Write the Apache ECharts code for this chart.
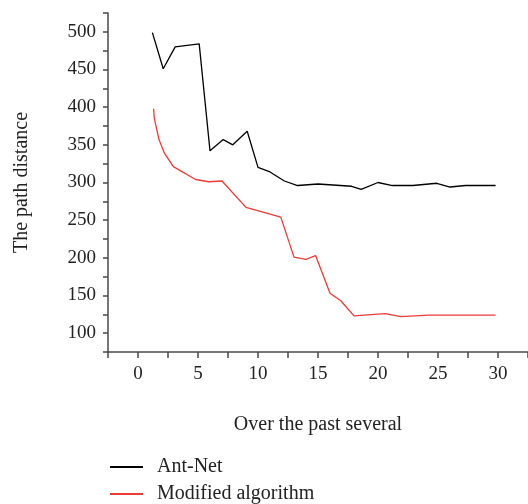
<!DOCTYPE html>
<html>
<head>
<meta charset="utf-8">
<script src="https://cdn.jsdelivr.net/npm/echarts@6/dist/echarts.min.js"></script>
<style>
  html, body { margin: 0; padding: 0; background: #fff; }
  #main { width: 528px; height: 504px; }
</style>
</head>
<body>
<div id="main"></div>
<script>
// 数据
var antNetX = [1.2, 2.1, 3.1, 5.1, 6.0, 7.1, 7.9, 9.1, 10.0, 11.0, 12.2, 13.3, 15.0, 17.8, 18.6, 20.0, 21.2, 22.9, 24.9, 26.0, 27.3, 29.8];
var antNetY = [499, 451, 480, 484, 342, 357, 350, 368, 320, 314, 302, 296, 298, 295, 291, 300, 296, 296, 299, 294, 296, 296];

var modX = [1.3, 1.36, 1.75, 2.2, 2.95, 4.8, 5.9, 7.0, 9.0, 11.9, 13.0, 14.0, 14.8, 16.0, 16.9, 18.0, 20.6, 21.9, 24.2, 29.8];
var modY = [398, 385, 357, 339, 321, 304, 301, 302, 267, 254, 201, 198, 203, 153, 143, 123, 126, 122, 124, 124];

var seriesNames = ['Ant-Net', 'Modified algorithm'];
var seriesColors = ['#000000', '#ee3b36'];
var xTicks = [0, 5, 10, 15, 20, 25, 30];
var yTicks = [100, 150, 200, 250, 300, 350, 400, 450, 500];

function pairs(xs, ys) {
    var out = [];
    for (var i = 0; i < xs.length; i++) out.push([xs[i], ys[i]]);
    return out;
}

var font = 'Liberation Serif';
var axisColor = '#4a4a4a';

// 两个图例, 一行一个
function legendAt(name, top) {
    return {
        left: 110,
        top: top,
        padding: 0,
        itemWidth: 33,
        itemHeight: 2,
        icon: 'rect',
        data: [name],
        textStyle: { fontFamily: font, fontSize: 20, color: '#222', padding: [0, 0, 0, 9] }
    };
}

var myChart = echarts.init(document.getElementById('main'));
var option = {
    animation: false,
    grid: { left: 108, top: 13, right: 0, bottom: 152, outerBoundsMode: 'none', containLabel: false },
    legend: [legendAt(seriesNames[0], 457), legendAt(seriesNames[1], 484)],
    xAxis: {
        type: 'value',
        min: -2.5,
        max: 32.5,
        interval: 2.5,
        name: 'Over the past several',
        nameLocation: 'middle',
        nameGap: 63,
        nameTextStyle: { fontFamily: font, fontSize: 20, color: '#222' },
        axisLine: { show: true, onZero: false, lineStyle: { color: axisColor, width: 1.5 } },
        axisTick: { show: true, length: 6, lineStyle: { color: axisColor, width: 1.5 } },
        splitLine: { show: false },
        axisLabel: {
            fontFamily: font, fontSize: 19, color: '#222', margin: 13,
            formatter: function (v) { return xTicks.indexOf(v) >= 0 ? String(v) : ''; }
        }
    },
    yAxis: {
        type: 'value',
        min: 75,
        max: 525,
        interval: 25,
        name: 'The path distance',
        nameLocation: 'middle',
        nameGap: 76,
        nameTextStyle: { fontFamily: font, fontSize: 20, color: '#222' },
        axisLine: { show: true, onZero: false, lineStyle: { color: axisColor, width: 1.5 } },
        axisTick: { show: true, length: 5, lineStyle: { color: axisColor, width: 1.5 } },
        splitLine: { show: false },
        axisLabel: {
            fontFamily: font, fontSize: 19, color: '#222', margin: 12,
            formatter: function (v) { return yTicks.indexOf(v) >= 0 ? String(v) : ''; }
        }
    },
    series: [
        {
            name: seriesNames[0],
            type: 'line',
            data: pairs(antNetX, antNetY),
            symbol: 'none',
            lineStyle: { color: seriesColors[0], width: 1.3 },
            itemStyle: { color: seriesColors[0] }
        },
        {
            name: seriesNames[1],
            type: 'line',
            data: pairs(modX, modY),
            symbol: 'none',
            lineStyle: { color: seriesColors[1], width: 1.3 },
            itemStyle: { color: seriesColors[1] }
        }
    ]
};
myChart.setOption(option);
</script>
</body>
</html>
